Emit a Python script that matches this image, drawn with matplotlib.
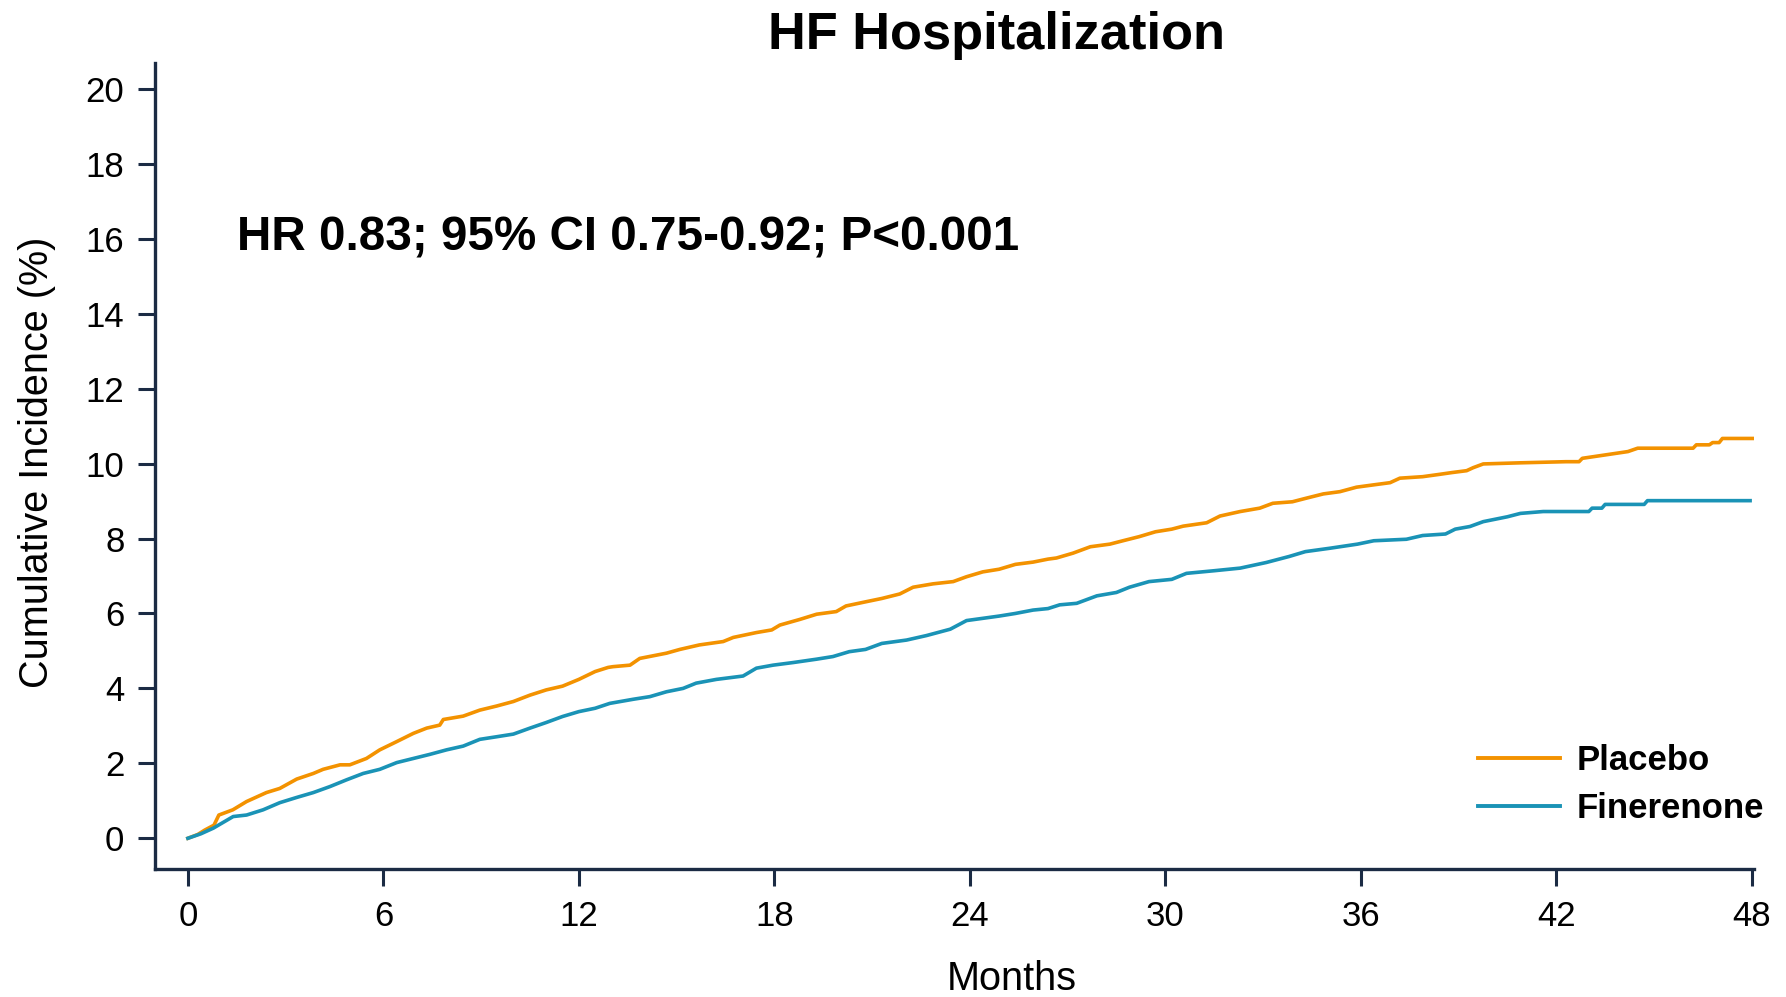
import matplotlib
matplotlib.use("Agg")
import matplotlib.pyplot as plt
from matplotlib.lines import Line2D

plt.rcParams['font.family'] = ['Liberation Sans', 'DejaVu Sans']

# ---------------- data ----------------
title = "HF Hospitalization"
annotation = "HR 0.83; 95% CI 0.75-0.92; P<0.001"
series_names = ["Placebo", "Finerenone"]
x_ticks = [0, 6, 12, 18, 24, 30, 36, 42, 48]
y_ticks = [0, 2, 4, 6, 8, 10, 12, 14, 16, 18, 20]

placebo_months = [0, 0.3, 0.52, 0.8, 0.95, 1.38, 1.80, 2.41, 2.82, 3.34, 3.85, 4.15,
                  4.67, 4.97, 5.48, 5.89, 6.41, 6.92, 7.33, 7.73, 7.84, 8.45, 8.96,
                  9.48, 9.99, 10.5, 11.0, 11.5, 12.0, 12.5, 12.9, 13.05, 13.57, 13.87,
                  14.69, 15.1, 15.7, 16.43, 16.74, 17.45, 17.92, 18.17, 18.78, 19.3,
                  19.9, 20.2, 20.8, 21.3, 21.85, 22.26, 22.87, 23.49, 23.9, 24.4, 24.9,
                  25.4, 25.94, 26.4, 26.66, 27.17, 27.7, 28.3, 28.7, 29.2, 29.7, 30.2,
                  30.55, 31.27, 31.68, 32.3, 32.9, 33.3, 33.9, 34.3, 34.85, 35.36,
                  35.87, 36.38, 36.9, 37.2, 37.9, 38.4, 38.8, 39.25, 39.45, 39.76,
                  40.9, 42.3, 42.7, 42.8, 43.5, 44.2, 44.5, 46.2, 46.3, 46.7, 46.8,
                  47.0, 47.1, 48.05]
placebo_values = [0, 0.10, 0.22, 0.35, 0.62, 0.76, 0.98, 1.22, 1.33, 1.58, 1.73, 1.84,
                  1.96, 1.96, 2.13, 2.36, 2.58, 2.80, 2.94, 3.02, 3.17, 3.26, 3.42,
                  3.53, 3.65, 3.82, 3.96, 4.06, 4.24, 4.45, 4.56, 4.58, 4.62, 4.80,
                  4.94, 5.04, 5.16, 5.25, 5.36, 5.49, 5.56, 5.69, 5.84, 5.98,
                  6.05, 6.20, 6.31, 6.40, 6.52, 6.70, 6.79, 6.85, 6.98, 7.11, 7.18,
                  7.31, 7.37, 7.45, 7.48, 7.61, 7.78, 7.85, 7.94, 8.05, 8.18, 8.25,
                  8.33, 8.42, 8.60, 8.72, 8.81, 8.94, 8.98, 9.07, 9.19, 9.25,
                  9.37, 9.43, 9.49, 9.61, 9.65, 9.71, 9.76, 9.81, 9.89, 9.99,
                  10.02, 10.05, 10.05, 10.14, 10.23, 10.32, 10.41, 10.41, 10.50, 10.50,
                  10.56, 10.56, 10.67, 10.67]

finerenone_months = [0, 0.4, 0.78, 1.39, 1.80, 2.31, 2.82, 3.34, 3.85, 4.36, 4.87, 5.38,
                     5.89, 6.41, 6.92, 7.43, 7.94, 8.45, 8.96, 9.48, 9.99, 10.5, 11.0,
                     11.5, 12.0, 12.5, 12.95, 13.67, 14.18, 14.69, 15.2, 15.6, 16.22,
                     17.04, 17.45, 17.96, 18.58, 19.3, 19.8, 20.3, 20.8, 21.3, 22.06,
                     22.67, 23.4, 23.9, 24.4, 24.9, 25.4, 25.94, 26.4, 26.76, 27.28,
                     27.9, 28.5, 28.9, 29.5, 30.2, 30.65, 31.5, 32.3, 33.1, 33.8, 34.3,
                     35.05, 35.9, 36.4, 37.4, 37.9, 38.6, 38.9, 39.35, 39.76, 40.5,
                     40.9, 41.6, 43.0, 43.1, 43.4, 43.5, 44.7, 44.8, 47.95]
finerenone_values = [0, 0.12, 0.27, 0.58, 0.62, 0.76, 0.95, 1.09, 1.22, 1.38, 1.56, 1.73,
                     1.84, 2.02, 2.13, 2.24, 2.36, 2.46, 2.64, 2.71, 2.78, 2.94, 3.09,
                     3.25, 3.38, 3.47, 3.60, 3.71, 3.78, 3.91, 4.00, 4.14, 4.24,
                     4.33, 4.54, 4.62, 4.69, 4.78, 4.85, 4.98, 5.04, 5.20, 5.29,
                     5.41, 5.58, 5.81, 5.87, 5.93, 6.00, 6.09, 6.13, 6.23, 6.27,
                     6.47, 6.56, 6.70, 6.85, 6.91, 7.07, 7.14, 7.21, 7.36, 7.52, 7.65,
                     7.74, 7.85, 7.94, 7.98, 8.08, 8.12, 8.25, 8.32, 8.45, 8.58,
                     8.67, 8.72, 8.72, 8.81, 8.81, 8.91, 8.91, 9.01, 9.01]

# ---------------- style ----------------
ORANGE = "#F39200"
BLUE = "#1A93B6"
NAVY = "#1B2B44"
W, H = 1786, 997

fig = plt.figure(figsize=(W / 100, H / 100), dpi=100)
ax = fig.add_axes([155 / W, 1 - 869 / H, (1754 - 155) / W, (869 - 63) / H])

ax.plot(placebo_months, placebo_values, color=ORANGE, lw=2.6)
ax.plot(finerenone_months, finerenone_values, color=BLUE, lw=2.6)

ax.set_xlim(-1.01, 48.07)
ax.set_ylim(-0.82, 20.69)
ax.set_xticks(x_ticks)
ax.set_yticks(y_ticks)

for s in ["top", "right"]:
    ax.spines[s].set_visible(False)
for s in ["left", "bottom"]:
    ax.spines[s].set_color(NAVY)
    ax.spines[s].set_linewidth(2.4)
ax.tick_params(axis="both", direction="out", length=12, width=2.2, color=NAVY,
               labelsize=25, labelcolor="black", pad=10)

ax.set_xlabel("Months", fontsize=28.5)
ax.xaxis.label.set_va("baseline")
ax.xaxis.set_label_coords((1012 - 155) / 1599, (869 - 990) / 806)
ax.set_ylabel("Cumulative Incidence (%)", fontsize=28.5)
ax.yaxis.set_label_coords((56 - 155) / 1599, (869 - 462) / 806)

fig.text(996 / W, 1 - 49 / H, title, ha="center", va="baseline",
         fontsize=37.7, fontweight="bold")
fig.text(237 / W, 1 - 250.6 / H, annotation, ha="left", va="baseline",
         fontsize=34.3, fontweight="bold")

handles = [Line2D([], [], color=ORANGE, lw=2.8), Line2D([], [], color=BLUE, lw=2.8)]
leg = ax.legend(handles, series_names, loc="center left",
                bbox_to_anchor=(1478 / W, 1 - 784.5 / H), bbox_transform=fig.transFigure,
                frameon=False, borderpad=0, borderaxespad=0, handlelength=2.36,
                handletextpad=0.49, labelspacing=0.43,
                prop={"size": 25, "weight": "bold"})

fig.savefig("out.png", dpi=100, facecolor="white")
